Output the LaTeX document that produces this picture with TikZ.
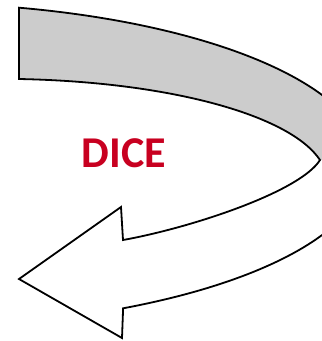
\documentclass[tikz,border=0pt]{standalone}
\usepackage{fontspec}
\setmainfont{Carlito}
\usepackage{tikz}
\definecolor{dicered}{RGB}{200,0,32}
\definecolor{bandgray}{RGB}{204,204,204}

\begin{document}
\begin{tikzpicture}[x=1pt, y=-1pt, line join=miter]
  \useasboundingbox (0,0) rectangle (322,341);
  \clip (0,0) rectangle (322,341);
  % named points of the arrow
  \coordinate (topleft) at (19,8);
  \coordinate (bandend) at (19,79);
  \coordinate (cusp) at (320,160);
  \coordinate (shafttop) at (123,240);
  \coordinate (barbtop) at (121,207);
  \coordinate (tip) at (19,279);
  \coordinate (barbbot) at (122,338);
  \coordinate (shaftbot) at (123,307);
  % back band, gray
  \fill[bandgray] plot[domain=-76.2:-3, samples=60]
      ({-90+457*cos(\x)}, {165+162*sin(\x)})
    -- (cusp) .. controls (290,115) and (170,82) .. (bandend) -- cycle;
  % outline
  \draw[line width=1.8pt] plot[domain=-76.2:62.2, samples=120]
      ({-90+457*cos(\x)}, {165+162*sin(\x)})
    -- (barbbot) -- (tip) -- (barbtop) -- (shafttop)
    .. controls (190,228) and (300,192) .. (cusp)
    .. controls (290,115) and (170,82) .. (bandend) -- cycle;
  \node[text=dicered, font=\fontsize{44}{44}\selectfont\bfseries] (dice) at (124,153) {DICE};
\end{tikzpicture}
\end{document}
